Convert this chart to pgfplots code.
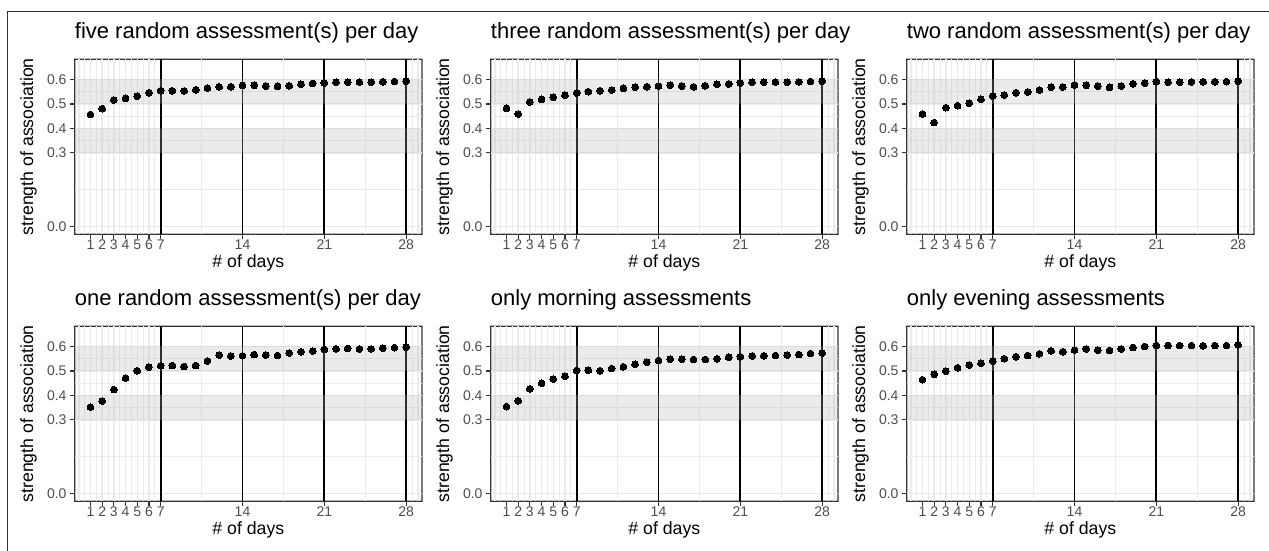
\documentclass[border=0pt]{standalone}
\usepackage{fontspec}
\setmainfont{Liberation Sans}
\usepackage{pgfplots}
\pgfplotsset{compat=1.18}
\usepackage{pgfplotstable}

\definecolor{grey92}{HTML}{EBEBEB}
\definecolor{grey20}{HTML}{333333}
\definecolor{grey30}{HTML}{4D4D4D}
\definecolor{bandfill}{HTML}{B6B6B6}

% strength of association by number of days, one column per sampling scheme
\pgfplotstableread{
day five three two one morning evening
1 0.457 0.482 0.459 0.352 0.354 0.464
2 0.481 0.459 0.424 0.377 0.378 0.486
3 0.516 0.508 0.485 0.424 0.427 0.499
4 0.523 0.519 0.493 0.471 0.450 0.513
5 0.532 0.527 0.503 0.501 0.467 0.524
6 0.546 0.536 0.519 0.516 0.478 0.532
7 0.554 0.545 0.532 0.521 0.502 0.540
8 0.554 0.550 0.536 0.522 0.503 0.550
9 0.553 0.554 0.546 0.518 0.501 0.558
10 0.558 0.557 0.549 0.522 0.510 0.563
11 0.565 0.564 0.557 0.541 0.517 0.570
12 0.570 0.569 0.569 0.565 0.527 0.582
13 0.570 0.570 0.569 0.561 0.536 0.578
14 0.576 0.573 0.577 0.562 0.543 0.585
15 0.576 0.577 0.576 0.567 0.548 0.590
16 0.573 0.573 0.573 0.565 0.548 0.585
17 0.572 0.570 0.568 0.563 0.547 0.584
18 0.574 0.574 0.573 0.573 0.547 0.590
19 0.581 0.580 0.582 0.578 0.550 0.596
20 0.584 0.582 0.585 0.581 0.556 0.600
21 0.586 0.586 0.591 0.588 0.558 0.604
22 0.589 0.589 0.589 0.590 0.561 0.604
23 0.589 0.589 0.589 0.592 0.562 0.604
24 0.589 0.589 0.590 0.590 0.563 0.604
25 0.589 0.589 0.591 0.590 0.565 0.603
26 0.591 0.590 0.591 0.593 0.567 0.604
27 0.592 0.592 0.591 0.595 0.571 0.604
28 0.593 0.593 0.593 0.597 0.573 0.607
}\assoc

\pgfplotsset{
  panel/.style={
    scale only axis, width=347.3pt, height=175pt, anchor=south west,
    xmin=-0.35, xmax=29.35, ymin=-0.0325, ymax=0.6825,
    xtick={1,2,3,4,5,6,7,14,21,28},
    extra x ticks={0,29}, extra x tick labels={,},
    extra x tick style={major tick length=0pt, grid=major},
    minor xtick={0.5,1.5,2.5,3.5,4.5,5.5,6.5,10.5,17.5,24.5,28.5},
    ytick={0,0.3,0.4,0.5,0.6},
    minor ytick={0.15,0.35,0.45,0.55},
    xtick pos=bottom, ytick pos=left,
    yticklabel style={/pgf/number format/fixed, /pgf/number format/fixed zerofill,
      /pgf/number format/precision=1, anchor=east, inner sep=0pt, xshift=-3.6pt},
    xticklabel style={inner sep=0pt, yshift=-0.6pt},
    /pgf/number format/assume math mode=true,
    grid=both,
    major grid style={grey92, line width=1.5pt},
    minor grid style={grey92, line width=0.8pt},
    tick align=outside, major tick length=4.4pt, minor tick length=0pt,
    tick style={grey20, line width=1.1pt},
    axis line style={draw=none},
    ticklabel style={font=\fontsize{14}{16}\selectfont, text=grey30},
    xlabel={\# of days}, ylabel={strength of association},
    label style={font=\fontsize{17.7}{20}\selectfont, inner sep=0pt},
    xlabel style={at={(axis description cs:0.5,-0.118)}, anchor=north},
    ylabel style={at={(axis description cs:-0.1086,0.5)}, anchor=south},
    title style={at={(0,1)}, anchor=base west, yshift=14.3pt, inner sep=0pt,
      font=\fontsize{22}{25}\selectfont},
    clip=false,
  },
  dots/.style={only marks, mark=*, mark size=3.4pt,
    mark options={draw=black, fill=black, line width=0pt}},
}

\newcommand{\weeklines}{%
  \draw[black, line width=1.8pt] (axis cs:7,-0.0325) -- (axis cs:7,0.6825);
  \draw[black, line width=1.8pt] (axis cs:14,-0.0325) -- (axis cs:14,0.6825);
  \draw[black, line width=1.8pt] (axis cs:21,-0.0325) -- (axis cs:21,0.6825);
  \draw[black, line width=1.8pt] (axis cs:28,-0.0325) -- (axis cs:28,0.6825);
}
\newcommand{\bands}{%
  \fill[bandfill, opacity=0.28] (axis cs:-0.35,0.3) rectangle (axis cs:29.35,0.4);
  \fill[bandfill, opacity=0.28] (axis cs:-0.35,0.5) rectangle (axis cs:29.35,0.6);
}

\begin{document}
\begin{tikzpicture}
\useasboundingbox (0,0) rectangle (1269pt,551pt);
\draw[grey20, line width=1pt] (7.7pt,0pt) -- (7.7pt,539pt) -- (1269pt,539pt);
% panel borders
\foreach \px/\py in {74.7/316.7, 490.7/316.7, 906.7/316.7, 74.7/49.7, 490.7/49.7, 906.7/49.7}
  \fill[grey20, even odd rule] (\px pt-0.7pt,\py pt-0.7pt) rectangle ++(348.7pt,176.4pt)
    (\px pt+0.7pt,\py pt+0.7pt) rectangle ++(345.9pt,173.6pt);

\begin{axis}[panel, at={(74.7pt,316.7pt)}, title={five random assessment(s) per day}]
\weeklines
\addplot[dots] table[x=day, y=five] {\assoc};
\bands
\end{axis}

\begin{axis}[panel, at={(490.7pt,316.7pt)}, title={three random assessment(s) per day}]
\weeklines
\addplot[dots] table[x=day, y=three] {\assoc};
\bands
\end{axis}

\begin{axis}[panel, at={(906.7pt,316.7pt)}, title={two random assessment(s) per day}]
\weeklines
\addplot[dots] table[x=day, y=two] {\assoc};
\bands
\end{axis}

\begin{axis}[panel, at={(74.7pt,49.7pt)}, title={one random assessment(s) per day}]
\weeklines
\addplot[dots] table[x=day, y=one] {\assoc};
\bands
\end{axis}

\begin{axis}[panel, at={(490.7pt,49.7pt)}, title={only morning assessments}]
\weeklines
\addplot[dots] table[x=day, y=morning] {\assoc};
\bands
\end{axis}

\begin{axis}[panel, at={(906.7pt,49.7pt)}, title={only evening assessments}]
\weeklines
\addplot[dots] table[x=day, y=evening] {\assoc};
\bands
\end{axis}
\end{tikzpicture}
\end{document}
